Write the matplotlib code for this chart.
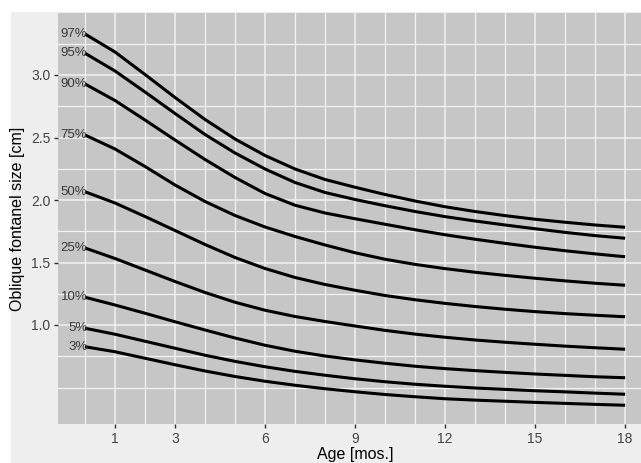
import matplotlib
matplotlib.use("Agg")
import matplotlib.pyplot as plt
from matplotlib.patches import Rectangle

ages = list(range(0, 19))
percentile_labels = ["97%", "95%", "90%", "75%", "50%", "25%", "10%", "5%", "3%"]

p97 = [3.328, 3.184, 3.004, 2.820, 2.644, 2.488, 2.356, 2.248, 2.164, 2.102, 2.044, 1.992, 1.946, 1.908, 1.875, 1.846, 1.822, 1.800, 1.782]
p95 = [3.174, 3.032, 2.864, 2.692, 2.524, 2.376, 2.248, 2.140, 2.060, 2.004, 1.954, 1.908, 1.867, 1.832, 1.800, 1.770, 1.741, 1.715, 1.694]
p90 = [2.928, 2.796, 2.640, 2.480, 2.324, 2.180, 2.052, 1.958, 1.896, 1.850, 1.806, 1.762, 1.722, 1.686, 1.653, 1.622, 1.594, 1.569, 1.546]
p75 = [2.520, 2.408, 2.268, 2.120, 1.988, 1.876, 1.784, 1.708, 1.640, 1.578, 1.526, 1.485, 1.451, 1.422, 1.397, 1.374, 1.353, 1.334, 1.318]
p50 = [2.066, 1.976, 1.868, 1.756, 1.644, 1.540, 1.452, 1.380, 1.324, 1.278, 1.236, 1.202, 1.173, 1.148, 1.126, 1.107, 1.091, 1.078, 1.066]
p25 = [1.616, 1.532, 1.440, 1.348, 1.260, 1.182, 1.118, 1.068, 1.028, 0.992, 0.957, 0.927, 0.902, 0.880, 0.862, 0.846, 0.831, 0.818, 0.806]
p10 = [1.222, 1.160, 1.094, 1.026, 0.960, 0.896, 0.838, 0.790, 0.752, 0.721, 0.694, 0.670, 0.651, 0.635, 0.621, 0.608, 0.597, 0.586, 0.578]
p05 = [0.974, 0.926, 0.870, 0.814, 0.758, 0.709, 0.666, 0.629, 0.598, 0.570, 0.546, 0.526, 0.510, 0.496, 0.485, 0.474, 0.465, 0.455, 0.446]
p03 = [0.826, 0.786, 0.734, 0.682, 0.632, 0.588, 0.550, 0.518, 0.490, 0.466, 0.444, 0.426, 0.410, 0.399, 0.390, 0.381, 0.373, 0.365, 0.358]
series = [p97, p95, p90, p75, p50, p25, p10, p05, p03]

x_ticks = [1, 3, 6, 9, 12, 15, 18]
x_minor = [0, 2, 4, 5, 7, 8, 10, 11, 13, 14, 16, 17]
y_ticks = [1.0, 1.5, 2.0, 2.5, 3.0]
y_minor = [0.5, 0.75, 1.25, 1.75, 2.25, 2.75, 3.25]

W, H = 641, 463
plt.rcParams['font.family'] = ['Liberation Sans', 'DejaVu Sans']
fig = plt.figure(figsize=(W / 100, H / 100), dpi=100, facecolor='white')
fig.patches.append(Rectangle((11 / W, 0), 1, 1 - 12 / H, transform=fig.transFigure,
                             facecolor='#eeeeee', edgecolor='none', zorder=-10))

ax = fig.add_axes([58 / W, (H - 424) / H, (W - 58) / W, (424 - 13) / H])
ax.set_facecolor('#c6c6c6')
for s in ax.spines.values():
    s.set_visible(False)

ax.set_xlim(-0.9, 18.53)
ax.set_ylim(0.208, 3.496)

for xv in x_ticks:
    ax.axvline(xv, color='#f2f2f2', lw=1.1, zorder=1)
for xv in x_minor:
    ax.axvline(xv, color='#f2f2f2', lw=0.9, zorder=1)
for yv in y_ticks:
    ax.axhline(yv, color='#f2f2f2', lw=1.1, zorder=1)
for yv in y_minor:
    ax.axhline(yv, color='#f2f2f2', lw=0.9, zorder=1)

for lab, vals in zip(percentile_labels, series):
    ax.plot(ages, vals, color='black', lw=2.2, solid_joinstyle='round',
            solid_capstyle='butt', zorder=3)
    ax.text(0.08, vals[0], lab, ha='right', va='center', fontsize=9.5,
            color='#3a3a3a', zorder=4)

ax.set_xticks(x_ticks)
ax.set_xticklabels([str(v) for v in x_ticks])
ax.set_yticks(y_ticks)
ax.set_yticklabels([f"{v:.1f}" for v in y_ticks])
ax.tick_params(axis='both', length=3, width=1, color='#333333', labelcolor='#444444',
               labelsize=10, pad=2.5)

ax.set_ylabel("Oblique fontanel size [cm]", fontsize=11.5, color='black', labelpad=4)
fig.text(355 / W, 1 - 447 / H, "Age [mos.]", ha='center', va='top', fontsize=11.5,
         color='black')

fig.savefig("out.png", dpi=100, facecolor=fig.get_facecolor())
